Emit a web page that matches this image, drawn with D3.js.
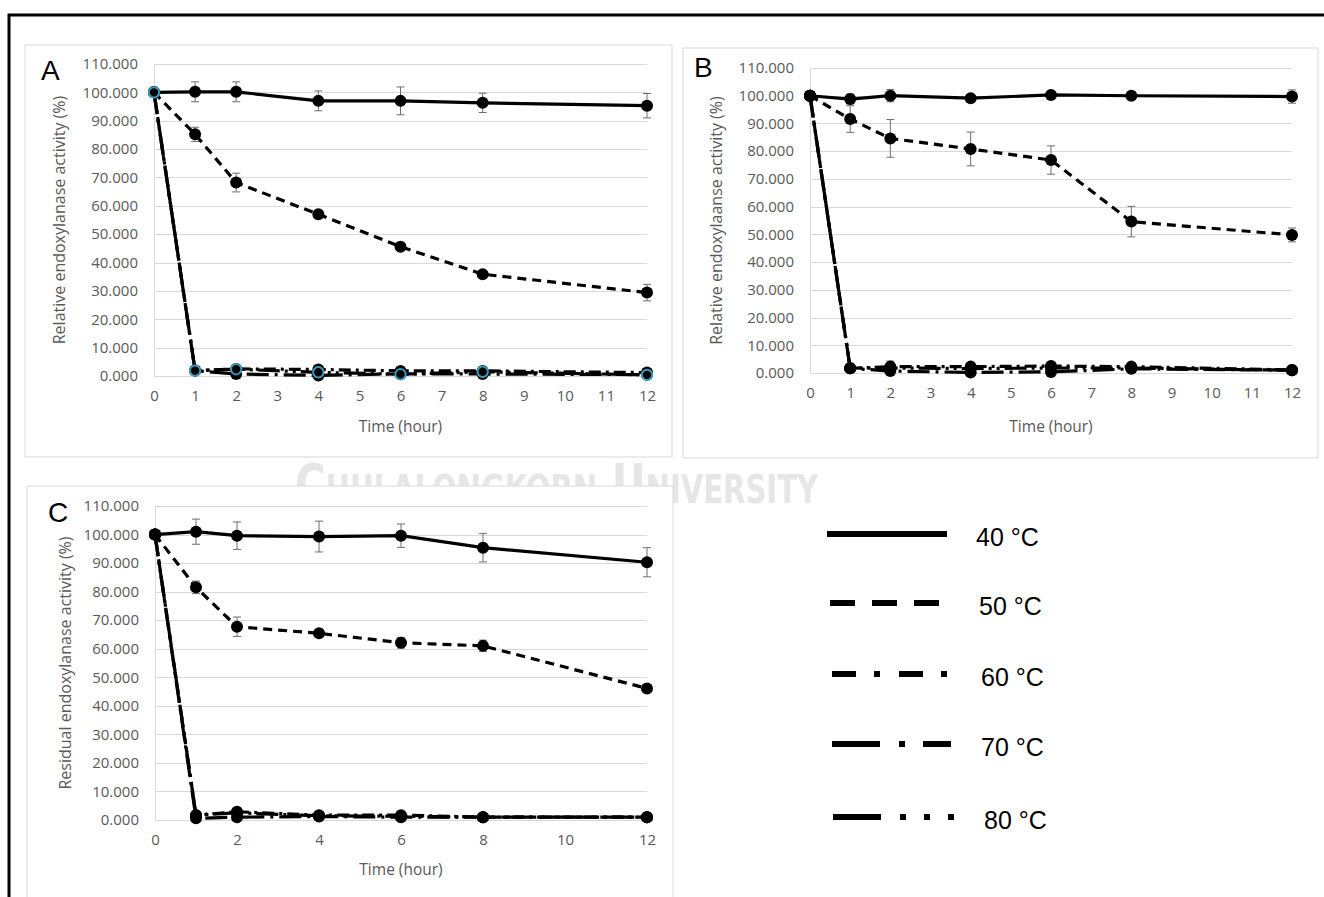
<!DOCTYPE html>
<html>
<head>
<meta charset="utf-8">
<script src="https://cdn.jsdelivr.net/npm/d3@7"></script>
<style>
  body { margin: 0; background: #fff; }
  svg { display: block; }
  .tick text { fill: #595959; font-family: 'Open Sans', sans-serif; font-size: 15px; }
</style>
</head>
<body>
<div id="vis"></div>
<script>
// time points (hours) and the shared series names
var hours = [0, 1, 2, 4, 6, 8, 12];
var temps = ["40 °C", "50 °C", "60 °C", "70 °C", "80 °C"];

var yTickValues = [0, 10, 20, 30, 40, 50, 60, 70, 80, 90, 100, 110];
var xTicksAB = [0, 1, 2, 3, 4, 5, 6, 7, 8, 9, 10, 11, 12];
var xTicksC = [0, 2, 4, 6, 8, 10, 12];

// panel A
var a40 = [100, 100.2, 100.2, 97.0, 97.0, 96.3, 95.3];
var a40Err = [0, 3.5, 3.5, 3.5, 4.9, 3.4, 4.3];
var a50 = [100, 85.2, 68.2, 57.0, 45.6, 35.9, 29.4];
var a50Err = [0, 2.5, 3.3, 0, 0, 0, 2.9];
var a60 = [100, 1.9, 2.5, 2.3, 1.8, 1.8, 1.2];
var a70 = [100, 1.9, 0.7, 0.2, 0.8, 0.7, 0.5];
var a80 = [100, 1.9, 2.4, 1.3, 0.6, 1.5, 0.4];

// panel B
var b40 = [100, 98.8, 100.0, 99.1, 100.3, 100.0, 99.7];
var b40Err = [0, 1.8, 2.2, 0, 0, 1.0, 2.4];
var b50 = [100, 91.6, 84.6, 80.8, 76.8, 54.6, 49.8];
var b50Err = [0, 4.8, 6.8, 6.1, 5.1, 5.5, 2.5];
var b60 = [100, 1.7, 2.3, 2.3, 2.5, 2.3, 1.1];
var b60Err = [0, 0, 2.0, 0, 0, 0, 0];
var b70 = [100, 1.7, 0.7, 0.2, 0.4, 1.5, 1.0];
var b80 = [100, 1.7, 1.8, 1.6, 1.8, 1.8, 1.0];

// panel C
var c40 = [100, 101.0, 99.6, 99.3, 99.6, 95.4, 90.3];
var c40Err = [0, 4.4, 4.8, 5.4, 4.1, 5.0, 5.1];
var c50 = [100, 81.5, 67.7, 65.4, 62.1, 61.0, 46.1];
var c50Err = [0, 2.2, 3.4, 0, 1.9, 2.0, 0];
var c60 = [100, 1.7, 2.9, 1.7, 1.7, 1.0, 1.0];
var c70 = [100, 0.6, 1.0, 1.2, 1.0, 1.0, 1.0];
var c80 = [100, 1.7, 2.5, 1.5, 1.3, 1.0, 1.0];

var zeros = [0, 0, 0, 0, 0, 0, 0];

var width = 1324, height = 897;

var svg = d3.select('#vis')
  .append('svg')
  .attr('width', width)
  .attr('height', height);

// dash styles used inside the plots and in the legend
var plotDash = ["none", "9,6", "12,5,3,5", "22,6,3,6", "22,5,3,5,3,5"];
var legendDash = ["none", "25,17", "24,18,6,19", "48,19,6,18", "48,19,6,18,6,18,6,100"];

// faint watermark text behind the panels
svg.append('text')
  .attr('x', 295)
  .attr('y', 503)
  .attr('textLength', 523)
  .attr('lengthAdjust', 'spacingAndGlyphs')
  .style('font-family', "'DejaVu Sans Condensed', 'Liberation Sans Narrow', sans-serif")
  .style('font-weight', 'bold')
  .style('font-size', '56px')
  .style('font-variant', 'small-caps')
  .style('fill', '#e6e6e6')
  .text('Chulalongkorn University');

// outer black frame
svg.append('path')
  .attr('d', 'M9,' + height + 'V15H' + width)
  .attr('fill', 'none')
  .attr('stroke', '#000')
  .attr('stroke-width', 3);

function drawPanel(p) {
  svg.append('rect')
    .attr('x', p.box[0])
    .attr('y', p.box[1])
    .attr('width', p.box[2] - p.box[0])
    .attr('height', p.box[3] - p.box[1])
    .attr('fill', '#fff')
    .attr('stroke', '#d9d9d9')
    .attr('stroke-width', 1);

  var x_scale = d3.scaleLinear().domain([0, 12]).range([p.x0, p.x1]);
  var y_scale = d3.scaleLinear().domain([0, 110]).range([p.y0, p.y1]);

  var g = svg.append('g');

  // gridlines
  g.selectAll('.grid')
    .data(yTickValues)
    .enter()
    .append('line')
    .attr('x1', p.x0)
    .attr('x2', p.x1)
    .attr('y1', function(d) { return Math.round(y_scale(d)) + 0.5; })
    .attr('y2', function(d) { return Math.round(y_scale(d)) + 0.5; })
    .attr('stroke', '#d9d9d9')
    .attr('stroke-width', 1);

  g.append('line')
    .attr('x1', Math.round(p.x0) + 0.5)
    .attr('x2', Math.round(p.x0) + 0.5)
    .attr('y1', p.y0)
    .attr('y2', p.y1)
    .attr('stroke', '#d9d9d9');

  var y_axis = d3.axisLeft(y_scale)
    .tickValues(yTickValues)
    .tickFormat(d3.format('.3f'))
    .tickSize(0)
    .tickPadding(16);

  var x_axis = d3.axisBottom(x_scale)
    .tickValues(p.xTicks)
    .tickSize(0)
    .tickPadding(14);

  g.append('g')
    .attr('class', 'y axis')
    .attr('transform', 'translate(' + p.x0 + ',0)')
    .call(y_axis)
    .select('.domain').remove();

  g.append('g')
    .attr('class', 'x axis')
    .attr('transform', 'translate(0,' + p.y0 + ')')
    .call(x_axis)
    .select('.domain').remove();

  // axis titles
  g.append('text')
    .attr('text-anchor', 'middle')
    .attr('transform', 'translate(' + p.yTitleX + ',' + ((p.y0 + p.y1) / 2) + ')rotate(-90)')
    .attr('dy', '0.35em')
    .style('font-family', "'Open Sans', sans-serif")
    .style('font-size', '16px')
    .style('fill', '#595959')
    .text(p.yTitle);

  g.append('text')
    .attr('text-anchor', 'middle')
    .attr('x', (p.x0 + p.x1) / 2)
    .attr('y', p.xTitleY)
    .attr('dy', '0.35em')
    .style('font-family', "'Open Sans', sans-serif")
    .style('font-size', '15.5px')
    .style('fill', '#595959')
    .text('Time (hour)');

  // panel letter
  g.append('text')
    .attr('x', p.letterX)
    .attr('y', p.letterY)
    .style('font-family', "'Liberation Sans', Arial, sans-serif")
    .style('font-size', '28px')
    .style('fill', '#000')
    .text(p.letter);

  var line = d3.line()
    .x(function(d) { return x_scale(d.t); })
    .y(function(d) { return y_scale(d.v); });

  p.series.forEach(function(s, i) {
    var pts = hours.map(function(h, j) {
      return { t: h, v: s.values[j], e: s.err[j] };
    });

    g.append('path')
      .datum(pts)
      .attr('d', line)
      .attr('fill', 'none')
      .attr('stroke', '#000')
      .attr('stroke-width', 3.2)
      .attr('stroke-dasharray', plotDash[i]);

    // error bars
    var bars = g.selectAll('.err' + i)
      .data(pts.filter(function(d) { return d.e > 0; }))
      .enter()
      .append('g');

    bars.append('line')
      .attr('x1', function(d) { return x_scale(d.t); })
      .attr('x2', function(d) { return x_scale(d.t); })
      .attr('y1', function(d) { return y_scale(d.v - d.e); })
      .attr('y2', function(d) { return y_scale(d.v + d.e); })
      .attr('stroke', '#6e6e6e')
      .attr('stroke-width', 1);

    [-1, 1].forEach(function(sign) {
      bars.append('line')
        .attr('x1', function(d) { return x_scale(d.t) - 4; })
        .attr('x2', function(d) { return x_scale(d.t) + 4; })
        .attr('y1', function(d) { return y_scale(d.v + sign * d.e); })
        .attr('y2', function(d) { return y_scale(d.v + sign * d.e); })
        .attr('stroke', '#6e6e6e')
        .attr('stroke-width', 1);
    });

    g.selectAll('.dot' + i)
      .data(pts)
      .enter()
      .append('circle')
      .attr('cx', function(d) { return x_scale(d.t); })
      .attr('cy', function(d) { return y_scale(d.v); })
      .attr('r', s.ring ? 5.2 : 6)
      .attr('fill', '#000')
      .attr('stroke', s.ring ? '#3a9cbc' : 'none')
      .attr('stroke-width', s.ring ? 2 : 0);
  });
}

drawPanel({
  box: [25, 45, 672, 457],
  x0: 154, x1: 647, y0: 376, y1: 64,
  xTicks: xTicksAB,
  letter: 'A', letterX: 41, letterY: 80,
  yTitle: 'Relative endoxylanase activity (%)', yTitleX: 59,
  xTitleY: 427,
  series: [
    { values: a40, err: a40Err },
    { values: a50, err: a50Err },
    { values: a60, err: zeros },
    { values: a70, err: zeros },
    { values: a80, err: zeros, ring: true }
  ]
});

drawPanel({
  box: [683, 48, 1318, 458],
  x0: 810, x1: 1292, y0: 373, y1: 68,
  xTicks: xTicksAB,
  letter: 'B', letterX: 694, letterY: 77,
  yTitle: 'Relative endoxylaanse activity (%)', yTitleX: 716,
  xTitleY: 427,
  series: [
    { values: b40, err: b40Err },
    { values: b50, err: b50Err },
    { values: b60, err: b60Err },
    { values: b70, err: zeros },
    { values: b80, err: zeros }
  ]
});

drawPanel({
  box: [27, 486, 673, 905],
  x0: 155, x1: 647, y0: 820, y1: 506,
  xTicks: xTicksC,
  letter: 'C', letterX: 48, letterY: 522,
  yTitle: 'Residual endoxylanase activity (%)', yTitleX: 65,
  xTitleY: 870,
  series: [
    { values: c40, err: c40Err },
    { values: c50, err: c50Err },
    { values: c60, err: zeros },
    { values: c70, err: zeros },
    { values: c80, err: zeros }
  ]
});

// legend
var legendY = [534, 603, 674, 744, 817];
var legendX = [[827, 947], [830, 939], [832, 947], [832, 951], [833, 954]];
var legendTextX = [976, 979, 981, 981, 984];

var legend = svg.append('g').attr('class', 'legend');

legend.selectAll('line')
  .data(temps)
  .enter()
  .append('line')
  .attr('x1', function(d, i) { return legendX[i][0]; })
  .attr('x2', function(d, i) { return legendX[i][1]; })
  .attr('y1', function(d, i) { return legendY[i]; })
  .attr('y2', function(d, i) { return legendY[i]; })
  .attr('stroke', '#000')
  .attr('stroke-width', 6)
  .attr('stroke-dasharray', function(d, i) { return legendDash[i]; });

legend.selectAll('text')
  .data(temps)
  .enter()
  .append('text')
  .attr('x', function(d, i) { return legendTextX[i]; })
  .attr('y', function(d, i) { return legendY[i] + 3; })
  .attr('dy', '0.35em')
  .style('font-family', "'Liberation Sans', Arial, sans-serif")
  .style('font-size', '25px')
  .style('fill', '#000')
  .text(function(d) { return d; });
</script>
</body>
</html>
